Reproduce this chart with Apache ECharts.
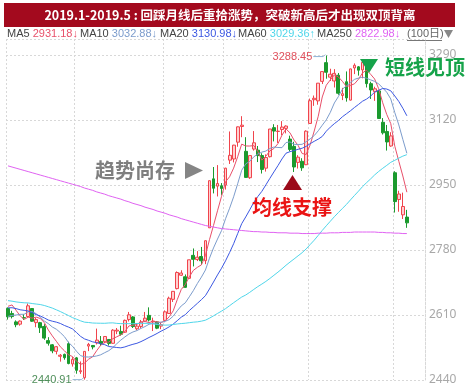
<!DOCTYPE html>
<html><head><meta charset="utf-8">
<script src="https://cdn.jsdelivr.net/npm/echarts@6/dist/echarts.min.js"></script>
<style>html,body{margin:0;padding:0;background:#fff}#c{width:470px;height:390px}</style>
</head><body><div id="c"></div>
<script>
// ---- data ----
const dates = [
'2018-12-06','2018-12-07','2018-12-10','2018-12-11','2018-12-12','2018-12-13','2018-12-14','2018-12-17','2018-12-18','2018-12-19','2018-12-20','2018-12-21','2018-12-24','2018-12-25','2018-12-26','2018-12-27','2018-12-28',
'2019-01-02','2019-01-03','2019-01-04','2019-01-07','2019-01-08','2019-01-09','2019-01-10','2019-01-11','2019-01-14','2019-01-15','2019-01-16','2019-01-17','2019-01-18','2019-01-21','2019-01-22','2019-01-23','2019-01-24','2019-01-25','2019-01-28','2019-01-29','2019-01-30','2019-01-31',
'2019-02-01','2019-02-11','2019-02-12','2019-02-13','2019-02-14','2019-02-15','2019-02-18','2019-02-19','2019-02-20','2019-02-21','2019-02-22','2019-02-25','2019-02-26','2019-02-27','2019-02-28',
'2019-03-01','2019-03-04','2019-03-05','2019-03-06','2019-03-07','2019-03-08','2019-03-11','2019-03-12','2019-03-13','2019-03-14','2019-03-15','2019-03-18','2019-03-19','2019-03-20','2019-03-21','2019-03-22','2019-03-25','2019-03-26','2019-03-27','2019-03-28','2019-03-29',
'2019-04-01','2019-04-02','2019-04-03','2019-04-04','2019-04-08','2019-04-09','2019-04-10','2019-04-11','2019-04-12','2019-04-15','2019-04-16','2019-04-17','2019-04-18','2019-04-19','2019-04-22','2019-04-23','2019-04-24','2019-04-25','2019-04-26','2019-04-29','2019-04-30',
'2019-05-06','2019-05-07','2019-05-08','2019-05-09'];
const opens = [
2627,2614,2592,2586,2603,2606,2627,2590,2590,2580,2543,2532,2515,2502,2507,2535,2482,
2497.88,2461.78,2446.02,2528.70,2530.30,2537,2541,2540,2546,2536,2568,2567,2565,2598,2605,2574,2580,2594,2609,2592,2592,2581,
2596,2614,2651,2679,2714,2710,2706,2766,2755,2763,2752,2838,2966,2947,2948,
2950,3015,3018,3062,3103,3038,2969,3044,3041,3027,2994,3024,3100,3090,3095,3098,3070,3051,3009,3012,3003,
3111,3173,3170,3221,3270,3232,3222,3237,3184,3220,3172,3256,3259,3251,3263,3215,3194,3196,3114,3090,3052,
2982,2912,2872,2866];
const closes = [
2605.18,2605.89,2584.58,2594.09,2602.15,2634.05,2593.74,2597.97,2576.65,2549.56,2536.27,2516.25,2527.01,2504.82,2498.29,2483.09,2493.90,
2465.29,2464.36,2514.87,2533.09,2526.46,2544.34,2535.10,2553.83,2535.77,2570.34,2570.42,2559.64,2596.01,2610.51,2579.70,2581.00,2591.69,2601.72,2596.98,2594.25,2575.58,2584.57,
2618.23,2653.90,2671.89,2721.07,2719.70,2682.39,2754.36,2755.65,2761.22,2751.80,2804.23,2961.28,2941.52,2953.82,2940.95,
2994.01,3027.58,3054.25,3102.10,3106.42,2969.86,3026.99,3060.31,3026.95,2990.69,3021.75,3096.42,3090.98,3090.64,3101.46,3104.15,3043.03,2997.10,3022.72,2994.94,3090.76,
3170.36,3176.82,3216.30,3246.57,3244.81,3239.66,3241.93,3189.96,3188.63,3177.79,3253.60,3263.12,3250.20,3270.80,3215.04,3198.59,3201.61,3123.83,3086.40,3062.50,3078.34,
2906.46,2926.39,2893.76,2850.95];
const lows = [
2598,2601,2578,2582,2597,2604,2592,2578,2563,2545,2530,2510,2507,2488,2493,2481,2475,
2456.42,2455.93,2440.91,2515.51,2520.16,2533,2529,2536,2530,2535,2560,2556,2563,2593,2576,2570,2575,2592,2593,2568,2573,2573,
2591,2613,2644,2677,2712,2681,2705,2737,2751,2742,2743,2838,2928,2920,2924,
2938,3005,3009,3050,3075,2969,2966,3040,3010,2980,2985,3022,3064,3060,3080,3085,3038,2984,2993,2987,3002,
3110,3157,3160,3214,3228,3222,3205,3186,3172,3168,3171,3240,3236,3229,3205,3175,3170,3123,3082,3040,3050,
2878,2880,2861,2838];
const highs = [
2630,2621,2596,2596,2612,2640,2628,2602,2592,2586,2552,2534,2529,2508,2509,2540,2500,
2500.28,2488.48,2515.32,2536.98,2531.35,2574.41,2555,2555,2547,2573,2576,2582,2598,2618,2607,2589,2597,2618,2630,2603,2594,2590,
2622,2658,2672,2724,2727,2716,2754,2784,2777,2788,2805,2961,2997,3002,2955,
2995,3090,3055,3103,3129.94,3075,3027,3091,3052,3033,3030,3096,3109,3107,3117,3106,3079,3063,3028,3020,3093,
3176,3184,3216,3247,3288.45,3254,3253,3243,3204,3247,3254,3268,3261,3270,3264,3220,3207,3198,3125,3107,3088,
2986,2935,2930,2885];
// closes before the first visible day (for the moving averages)
const priorCloses = [
2691.59,2702.30,2669.48,2664.80,2656.11,2686.58,2681.64,2651.79,2699.95,2730.85,2729.24,2797.49,2781.14,2806.81,2791.77,2821.35,
2716.51,2721.01,2725.84,2583.46,2606.91,2568.10,2546.33,2561.61,2486.42,2550.47,2654.88,2594.83,2603.30,2603.80,2598.85,2542.10,2568.05,2602.78,
2606.24,2676.48,2665.43,2659.36,2641.34,2635.63,2598.87,2630.52,2654.88,2632.24,2668.17,2679.11,2703.51,2645.43,2651.51,2645.85,2579.48,2575.81,2574.68,2601.74,2567.44,2588.19,
2654.80,2665.96,2649.81];
// MA250
const ma250 = [
3000,2997,2994,2991,2988,2985,2982,2979,2976,2973,2970,2967,2964,2961,2958,2955,2952,2949,2946,2942,
2939,2936,2932,2929,2926,2922,2919,2916,2913,2909,2906,2902,2899,2896,2892,2889,2886,2882,2879,2876,
2872,2869,2866,2862,2859,2856,2853,2850,2847,2844,2842,2840,2838,2836,2835,2834,2833,2832,2831,2830,
2829,2828,2828,2827,2827,2826,2826,2825,2825,2825,2824,2824,2824,2823,2823,2823,2823,2824,2824,2824,
2825,2825,2825,2826,2826,2826,2827,2827,2827,2827,2827,2827,2826,2826,2825,2825,2824,2824,2823,2822.98];
const yMin = 2440, yStep = 170;
const maNames = ['MA5','MA10','MA20','MA60','MA250'];
const maColors = ['#e8506a','#7c9ccc','#3c58e2','#4fd6ea','#e062f2'];
const titleText = '2019.1-2019.5 : 回踩月线后重拾涨势，突破新高后才出现双顶背离';
const notes = ['短线见顶','趋势尚存','均线支撑'];
const daysText = '(100日)';
const padCats = ['','','',''];

// ---- build ----
const allCloses = priorCloses.concat(closes);
const off = priorCloses.length;
function calcMA(n){
  return closes.map((_, i) => {
    let s = 0; for (let k = 0; k < n; k++) s += allCloses[off + i - k];
    return +(s / n).toFixed(2);
  });
}
const maData = [calcMA(5), calcMA(10), calcMA(20), calcMA(60), ma250];
const candle = dates.map((d, i) => [opens[i], closes[i], lows[i], highs[i]]);
const cats = dates.concat(padCats);
const monthIdx = [0];
for (let i = 1; i < dates.length; i++) if (dates[i].slice(0,7) !== dates[i-1].slice(0,7)) monthIdx.push(i);

const chart = echarts.init(document.getElementById('c'), null, {renderer:'canvas'});
const FONT = '"Liberation Sans","Noto Sans","Noto Sans CJK SC",sans-serif';
const series = [{
  type:'candlestick', data:candle, barWidth:'82%',
  itemStyle:{color:'#ffd0d0', color0:'#1b9a2e', borderColor:'#f0444c', borderColor0:'#1b9a2e', borderWidth:1},
  z:2
}];
maData.forEach((d, k) => series.push({
  type:'line', data:d, symbol:'none', smooth:false, silent:true, z:3,
  lineStyle:{width:1, color:maColors[k]}
}));
chart.setOption({
  animation:false,
  backgroundColor:'#fff',
  grid:{left:6, right:45, top:39, bottom:10},
  xAxis:{type:'category', data:cats, boundaryGap:true,
    axisLine:{show:false}, axisTick:{show:false}, axisLabel:{show:false},
    splitLine:{show:true, interval:(i)=>monthIdx.indexOf(i) >= 0, lineStyle:{type:[2,2], color:'#d8d8d8'}}},
  yAxis:{type:'value', position:'right', min:yMin, max:3331.8, interval:yStep, scale:true,
    axisLine:{show:true, lineStyle:{type:[2,2], color:'#d8d8d8'}}, axisTick:{show:false},
    axisLabel:{color:'#a8a8a8', fontSize:12, margin:4, fontFamily:'"Noto Sans",sans-serif', showMaxLabel:false, formatter:(v)=>String(v)},
    splitLine:{lineStyle:{type:[2,2], color:'#d8d8d8'}}},
  series
});

// ---- overlay texts ----
const g = [];
g.push({type:'rect', shape:{x:4, y:3, width:451, height:24}, style:{fill:'#a30a1e'}});
g.push({type:'text', x:230, y:15, style:{text:titleText, fill:'#fff', font:'bold 12.5px "Noto Sans CJK SC","Noto Sans",sans-serif', align:'center', verticalAlign:'middle'}});
const lx = [7, 80, 160, 238, 317];
maData.forEach((d, k) => {
  const last = d[d.length-1], prev = d[d.length-2];
  g.push({type:'text', x:lx[k], y:34, style:{
    text:'{l|'+maNames[k]+'} {v|'+last.toFixed(2)+(last>=prev?'↑':'↓')+'}',
    verticalAlign:'middle',
    rich:{l:{fill:'#444', font:'11px '+FONT}, v:{fill:maColors[k], font:'11px '+FONT}},
    font:'11px '+FONT}});
});
g.push({type:'text', x:407, y:34, style:{text:daysText, fill:'#666', font:'11px '+FONT, verticalAlign:'middle'}});
g.push({type:'line', shape:{x1:407, y1:40.5, x2:442, y2:40.5}, style:{stroke:'#777', lineWidth:1}});
g.push({type:'polygon', shape:{points:[[444,30],[453,30],[448.5,38]]}, style:{fill:'#888'}});

// annotations
g.push({type:'polygon', shape:{points:[[360,59],[378,59],[369,73]]}, style:{fill:'#16a34a'}, z:50});
g.push({type:'text', x:385, y:67, style:{text:notes[0], fill:'#16a34a', font:'bold 20px "Noto Sans CJK SC",sans-serif', verticalAlign:'middle'}, z:50});
g.push({type:'text', x:95, y:170, style:{text:notes[1], fill:'#7f7f7f', font:'bold 20px "Noto Sans CJK SC",sans-serif', verticalAlign:'middle'}, z:50});
g.push({type:'polygon', shape:{points:[[185,162],[185,179],[203,170.5]]}, style:{fill:'#858585'}, z:50});
g.push({type:'polygon', shape:{points:[[283,190],[302,190],[292.5,175]]}, style:{fill:'#9b0a1a'}, z:50});
g.push({type:'text', x:252, y:207, style:{text:notes[2], fill:'#ea1414', font:'bold 20px "Noto Sans CJK SC",sans-serif', verticalAlign:'middle'}, z:50});

// high / low markers
let hi = 0, lo = 0;
highs.forEach((v,i)=>{ if (v > highs[hi]) hi = i; });
lows.forEach((v,i)=>{ if (v < lows[lo]) lo = i; });
const ph = chart.convertToPixel({gridIndex:0}, [hi, highs[hi]]);
const pl = chart.convertToPixel({gridIndex:0}, [lo, lows[lo]]);
g.push({type:'text', x:ph[0]-14, y:ph[1]+1, style:{text:highs[hi].toFixed(2), fill:'#e0505c', font:'11px '+FONT, align:'right', verticalAlign:'middle'}, z:40});
g.push({type:'polyline', shape:{points:[[ph[0]-13, ph[1]+1],[ph[0]-3, ph[1]+1],[ph[0]-1, ph[1]-1]]}, style:{stroke:'#8fb5d8', lineWidth:1, fill:null}, z:40});
g.push({type:'text', x:pl[0]-13, y:pl[1], style:{text:lows[lo].toFixed(2), fill:'#4f8f5a', font:'11px '+FONT, align:'right', verticalAlign:'middle'}, z:40});
g.push({type:'polyline', shape:{points:[[pl[0]-12, pl[1]],[pl[0]-3, pl[1]],[pl[0]-1, pl[1]-2]]}, style:{stroke:'#8fb5d8', lineWidth:1, fill:null}, z:40});
chart.setOption({graphic:{elements:g}});
</script></body></html>
